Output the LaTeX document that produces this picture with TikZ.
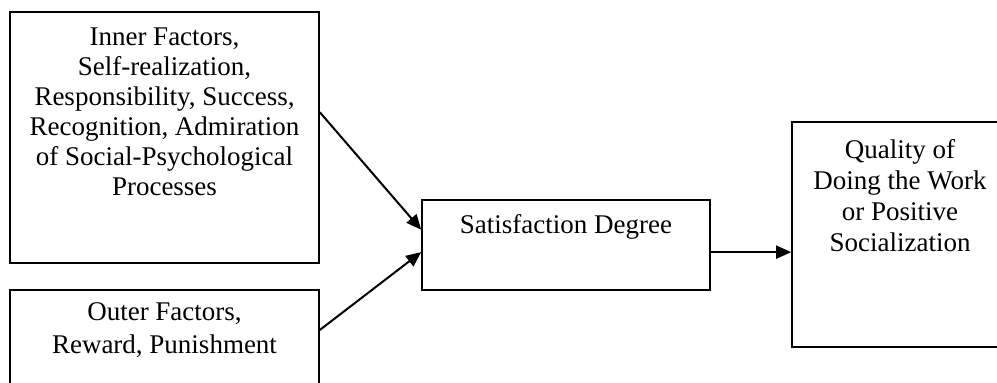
\documentclass[tikz,border=0pt]{standalone}
\usepackage{fontspec}
\setmainfont{Liberation Serif}
\usetikzlibrary{arrows.meta,positioning,calc}

\begin{document}
\begin{tikzpicture}[x=0.5pt,y=0.5pt,
  box/.style={draw, line width=0.8pt, inner sep=0pt},
  boxtext/.style={inner sep=0pt, align=center, font=\fontsize{13.5}{15}\selectfont},
  flow/.style={line width=1pt, -{Triangle[length=7.5pt,width=6.5pt]}}]
\useasboundingbox (0,0) rectangle (997,383);

% Boxes
\node[box, minimum width=154.5pt, minimum height=125.5pt] (inner) at (164.5,245.5) {};
\node[box, minimum width=154.5pt, minimum height=65pt] (outer) at (164.5,28) {};
\node[box, minimum width=144pt, minimum height=45pt] (satis) at (566,138) {};
\node[box, minimum width=108pt, minimum height=112.5pt] (quality) at (900,148.5) {};

% Texts
\node[boxtext, below=8.3pt of inner.north] (innertext)
  {Inner Factors,\\ Self-realization,\\ Responsibility, Success,\\
   Recognition, Admiration\\ of Social-Psychological\\ Processes};
\node[boxtext, font=\fontsize{13.5}{16.5}\selectfont, below=6.3pt of outer.north] (outertext)
  {Outer Factors,\\ Reward, Punishment};
\node[boxtext, below=7.3pt of satis.north] (satistext) {Satisfaction Degree};
\node[boxtext, font=\fontsize{13.5}{15.5}\selectfont, below=8.8pt of quality.north] (qualitytext)
  {Quality of\\ Doing the Work\\ or Positive\\ Socialization};

% Arrows
\draw[flow] ($(inner.north east)!0.4!(inner.south east)$) -- ($(satis.north west)!0.333!(satis.south west)$);
\draw[flow] ($(outer.north east)!0.31!(outer.south east)$) -- ($(satis.north west)!0.578!(satis.south west)$);
\draw[flow] ($(satis.north east)!0.578!(satis.south east)$) coordinate (satout) -- (satout -| quality.west);
\end{tikzpicture}
\end{document}
